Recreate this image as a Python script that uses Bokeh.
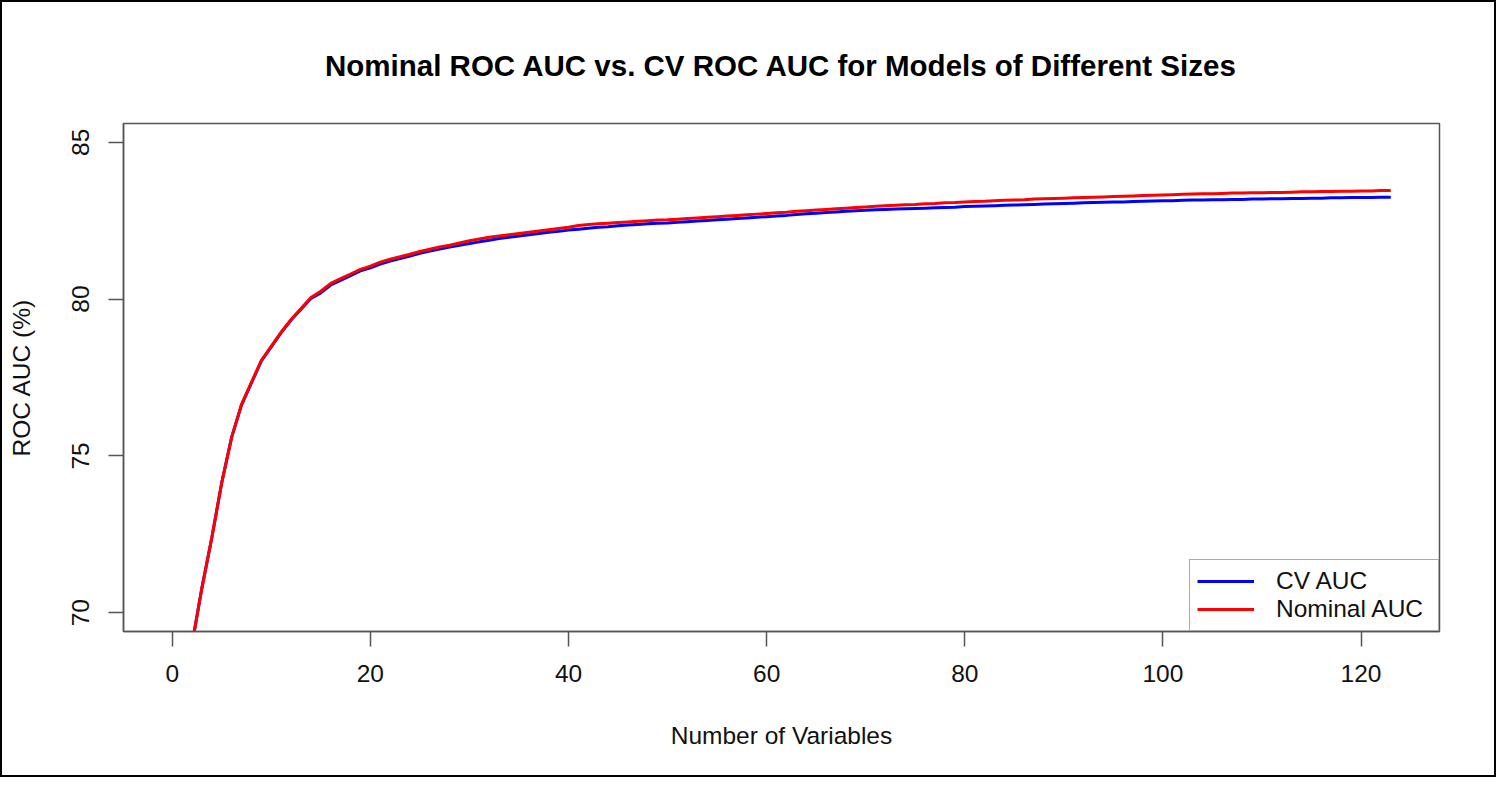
from bokeh.plotting import figure
from bokeh.layouts import column
from bokeh.models import Range1d, FixedTicker, Legend, LegendItem
from bokeh.embed import file_html
from bokeh.resources import INLINE

title_text = "Nominal ROC AUC vs. CV ROC AUC for Models of Different Sizes"
x_label = "Number of Variables"
y_label = "ROC AUC (%)"
series_names = ["CV AUC", "Nominal AUC"]
x_ticks = [0, 20, 40, 60, 80, 100, 120]
y_ticks = [70, 75, 80, 85]

num_vars = list(range(0, 124))

nominal_auc = [
    50.0, 64.0, 69.0, 70.8, 72.4, 74.15, 75.6, 76.65, 77.35, 78.05,
    78.5, 78.95, 79.35, 79.7, 80.05, 80.25, 80.5, 80.65, 80.8, 80.95,
    81.05, 81.18, 81.27, 81.35, 81.43, 81.52, 81.59, 81.66, 81.72, 81.79,
    81.86, 81.92, 81.97, 82.01, 82.05, 82.09, 82.13, 82.17, 82.21, 82.25,
    82.29, 82.35, 82.38, 82.4, 82.42, 82.44, 82.46, 82.48, 82.5, 82.52,
    82.53, 82.55, 82.57, 82.59, 82.61, 82.63, 82.65, 82.67, 82.69, 82.71,
    82.73, 82.75, 82.77, 82.8, 82.82, 82.84, 82.86, 82.88, 82.9, 82.92,
    82.94, 82.96, 82.98, 82.99, 83.01, 83.02, 83.04, 83.05, 83.07, 83.08,
    83.1, 83.11, 83.12, 83.14, 83.15, 83.16, 83.17, 83.19, 83.2, 83.21,
    83.22, 83.23, 83.24, 83.25, 83.26, 83.27, 83.28, 83.29, 83.3, 83.31,
    83.32, 83.33, 83.34, 83.35, 83.36, 83.36, 83.37, 83.38, 83.38, 83.39,
    83.39, 83.4, 83.4, 83.41, 83.42, 83.42, 83.43, 83.43, 83.44, 83.44,
    83.45, 83.45, 83.46, 83.46,
]

cv_auc = [
    50.0, 64.0, 69.0, 70.8, 72.4, 74.15, 75.6, 76.63, 77.33, 78.03,
    78.48, 78.93, 79.33, 79.68, 80.02, 80.2, 80.45, 80.6, 80.75, 80.9,
    81.0, 81.12, 81.21, 81.29, 81.37, 81.46, 81.53, 81.6, 81.66, 81.72,
    81.77, 81.83, 81.88, 81.93, 81.97, 82.01, 82.05, 82.09, 82.13, 82.16,
    82.2, 82.23, 82.26, 82.29, 82.31, 82.34, 82.36, 82.38, 82.4, 82.42,
    82.43, 82.45, 82.47, 82.49, 82.51, 82.53, 82.55, 82.57, 82.59, 82.61,
    82.63, 82.65, 82.67, 82.7, 82.72, 82.74, 82.76, 82.78, 82.8, 82.82,
    82.83, 82.85, 82.86, 82.87, 82.88, 82.89, 82.9, 82.91, 82.92, 82.93,
    82.95, 82.96, 82.97, 82.98, 82.99, 83.0, 83.01, 83.02, 83.03, 83.04,
    83.05, 83.06, 83.07, 83.08, 83.09, 83.1, 83.1, 83.11, 83.12, 83.13,
    83.14, 83.14, 83.15, 83.16, 83.16, 83.17, 83.17, 83.18, 83.18, 83.19,
    83.19, 83.2, 83.2, 83.21, 83.21, 83.22, 83.22, 83.23, 83.23, 83.24,
    83.24, 83.24, 83.25, 83.25,
]

FONT = "Liberation Sans"
GREY = "#555555"

p = figure(
    width=1492, height=773,
    output_backend="svg", toolbar_location=None,
    x_range=Range1d(-4.92, 127.92), y_range=Range1d(69.4, 85.6),
    min_border_left=121, min_border_right=55,
    min_border_top=121, min_border_bottom=144,
)
p.xgrid.visible = False
p.ygrid.visible = False
p.outline_line_color = GREY
p.outline_line_width = 1.5
p.background_fill_color = "white"
p.border_fill_color = "white"

p.title.text = title_text
p.title.align = "center"
p.title.text_font = FONT
p.title.text_font_size = "29.5px"
p.title.text_font_style = "bold"
p.title.text_color = "#000000"
p.title.standoff = 83

for ax in (p.xaxis[0], p.yaxis[0]):
    ax.axis_line_color = GREY
    ax.axis_line_width = 1.5
    ax.major_tick_line_color = GREY
    ax.major_tick_line_width = 1.5
    ax.major_tick_in = 0
    ax.major_tick_out = 15
    ax.minor_tick_line_color = None
    ax.major_label_text_font = FONT
    ax.major_label_text_font_size = "24.5px"
    ax.major_label_text_color = "#111111"
    ax.axis_label_text_font = FONT
    ax.axis_label_text_font_size = "24.5px"
    ax.axis_label_text_font_style = "normal"
    ax.axis_label_text_color = "#111111"

p.xaxis.ticker = FixedTicker(ticks=x_ticks)
p.yaxis.ticker = FixedTicker(ticks=y_ticks)
p.xaxis.axis_label = x_label
p.yaxis.axis_label = y_label
p.xaxis.major_label_standoff = 18
p.xaxis.axis_label_standoff = 37
p.yaxis.major_label_standoff = 19
p.yaxis.major_label_orientation = "vertical"
p.yaxis.axis_label_standoff = 35

r_cv = p.line(num_vars, cv_auc, line_color="#0000FF", line_width=3)
r_nom = p.line(num_vars, nominal_auc, line_color="#FF0000", line_width=3)

legend = Legend(
    items=[LegendItem(label=series_names[0], renderers=[r_cv]),
           LegendItem(label=series_names[1], renderers=[r_nom])],
    location="bottom_right", margin=0, padding=7, spacing=0,
    glyph_width=57, glyph_height=20, label_standoff=22,
    label_width=155, label_height=20,
    label_text_font=FONT, label_text_font_size="24.5px",
    label_text_color="#111111",
    border_line_color=GREY, border_line_width=1.5,
    background_fill_color="white", background_fill_alpha=1.0,
)
p.add_layout(legend, "center")

root = column(p, styles={"border": "2px solid #000000"})

open("out.html", "w").write(file_html(root, INLINE))
